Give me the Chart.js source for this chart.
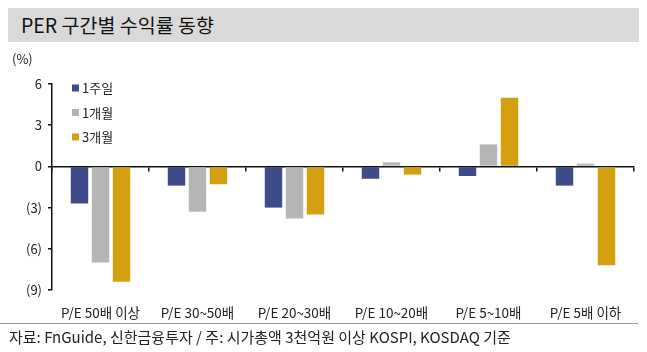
<!DOCTYPE html>
<html>
<head>
<meta charset="utf-8">
<script src="https://cdn.jsdelivr.net/npm/chart.js@4.4.1/dist/chart.umd.min.js"></script>
<style>
  html, body { margin: 0; padding: 0; background: #fff; width: 647px; height: 352px; overflow: hidden; }
  body { position: relative; font-family: "Noto Sans CJK KR", "Noto Sans", sans-serif; }
  #title { position: absolute; left: 8px; top: 8px; width: 631px; height: 34px; background: #d9d9d9;
           box-sizing: border-box; padding-left: 13px; font-size: 19.5px; line-height: 34px; color: #111; }
  #unit { position: absolute; left: 12px; top: 49px; font-size: 13px; color: #222; }
  #sep { position: absolute; left: 0; top: 323px; width: 638px; height: 1px; background: #9a9a9a; }
  #src { position: absolute; left: 9px; top: 327px; font-size: 15px; color: #222; line-height: 20px; white-space: nowrap; }
  #wrap { position: absolute; left: 0; top: 0; width: 647px; height: 352px; }
</style>
</head>
<body>
<div id="wrap"><canvas id="c" width="647" height="352"></canvas></div>
<div id="title">PER 구간별 수익률 동향</div>
<div id="unit">(%)</div>
<div id="sep"></div>
<div id="src">자료: FnGuide, 신한금융투자 / 주: 시가총액 3천억원 이상 KOSPI, KOSDAQ 기준</div>
<script>
const categories = ["P/E 50배 이상", "P/E 30~50배", "P/E 20~30배", "P/E 10~20배", "P/E 5~10배", "P/E 5배 이하"];
const seriesNames = ["1주일", "1개월", "3개월"];
const week1 = [-2.7, -1.4, -3.0, -0.9, -0.7, -1.4];
const month1 = [-7.0, -3.3, -3.8, 0.3, 1.6, 0.2];
const month3 = [-8.4, -1.3, -3.5, -0.6, 5.0, -7.2];
const yTicks = [6, 3, 0, -3, -6, -9];
const colors = ["#3e4c8a", "#b5b5b5", "#d5a00f"];

const FONT = '"Noto Sans CJK KR", "Noto Sans", sans-serif';

const legendPlugin = {
  id: 'insideLegend',
  afterDraw(chart) {
    const ctx = chart.ctx;
    const x0 = 72, y0 = 88, step = 24.5;
    ctx.save();
    ctx.font = '13px ' + FONT;
    ctx.textBaseline = 'middle';
    chart.data.datasets.forEach((ds, i) => {
      const y = y0 + i * step;
      ctx.fillStyle = ds.backgroundColor;
      ctx.fillRect(x0, y - 3.5, 7, 7);
      ctx.fillStyle = '#222';
      ctx.fillText(ds.label, x0 + 10, y + 0.5);
    });
    ctx.restore();
  }
};

const common = { barPercentage: 0.83, categoryPercentage: 0.65 };

new Chart(document.getElementById('c'), {
  type: 'bar',
  data: {
    labels: categories,
    datasets: [
      Object.assign({ label: seriesNames[0], data: week1, backgroundColor: colors[0] }, common),
      Object.assign({ label: seriesNames[1], data: month1, backgroundColor: colors[1] }, common),
      Object.assign({ label: seriesNames[2], data: month3, backgroundColor: colors[2] }, common)
    ]
  },
  options: {
    responsive: false,
    animation: false,
    devicePixelRatio: 1,
    layout: { padding: { left: 0, right: 13, top: 84, bottom: 32 } },
    plugins: { legend: { display: false }, tooltip: { enabled: false } },
    scales: {
      x: {
        position: 'bottom',
        grid: { display: false },
        border: { display: false },
        ticks: { font: { family: FONT, size: 13.5 }, color: '#222', padding: 7, maxRotation: 0, autoSkip: false },
        afterFit(s) { s.height = 30; }
      },
      x0: {
        type: 'category',
        labels: categories,
        position: { y: 0 },
        offset: true,
        grid: { display: true, drawOnChartArea: false, drawTicks: true, tickLength: 4, color: '#111', lineWidth: 1.5, offset: true },
        border: { display: true, color: '#111', width: 1.5 },
        ticks: { display: false }
      },
      y: {
        min: -9, max: 6,
        afterBuildTicks(s) { s.ticks = yTicks.map(v => ({ value: v })); },
        grid: { display: true, drawOnChartArea: false, drawTicks: true, tickLength: 4, color: '#111', lineWidth: 1.5 },
        border: { display: true, color: '#111', width: 1.5 },
        ticks: {
          font: { family: FONT, size: 13 }, color: '#222', padding: 6,
          callback: v => v < 0 ? '(' + (-v) + ')' : String(v)
        },
        afterFit(s) { s.width = 52; }
      }
    }
  },
  plugins: [legendPlugin]
});
</script>
</body>
</html>
